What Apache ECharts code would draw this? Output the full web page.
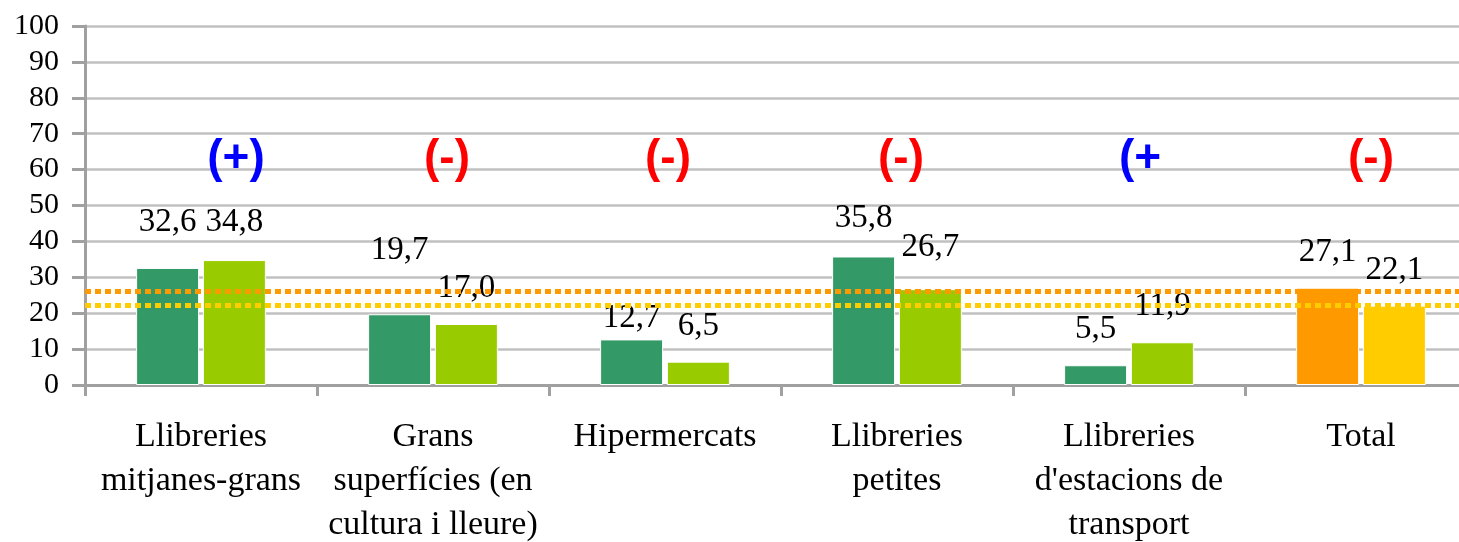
<!DOCTYPE html>
<html>
<head>
<meta charset="utf-8">
<script src="https://cdn.jsdelivr.net/npm/echarts@6/dist/echarts.min.js"></script>
<style>
  html, body { margin: 0; padding: 0; background: #fff; }
  #chart { width: 1459px; height: 542px; }
</style>
</head>
<body>
<div id="chart"></div>
<script>
var categories = ['Llibreries\nmitjanes-grans', 'Grans\nsuperfícies (en\ncultura i lleure)', 'Hipermercats',
    'Llibreries\npetites', "Llibreries\nd'estacions de\ntransport", 'Total'];
var serieA = [32.6, 19.7, 12.7, 35.8, 5.5, 27.1];
var serieB = [34.8, 17.0, 6.5, 26.7, 11.9, 22.1];
var refLines = [26.1, 22.3];
var signs = ['(+)', '(-)', '(-)', '(-)', '(+', '(-)'];
var signColors = ['#0000ff', '#ff0000', '#ff0000', '#ff0000', '#0000ff', '#ff0000'];

// label placement tweaks (the original labels were moved by hand)
var liftA = [10, 28, -14, 3, 0, 0];
var liftB = [2, 0, 0, 6, 0, 0];
var signShift = [35, 14, 3, 4, 11, 10];
var signLevel = 63;

var serif = '"Liberation Serif", "DejaVu Serif", serif';

function fmt(v) {
    return v.toFixed(1).replace('.', ',');
}

function barData(values, lift, lastColor) {
    return values.map(function(v, i) {
        var item = { value: v, label: { distance: 19 + lift[i] } };
        if (i === values.length - 1) item.itemStyle = { color: lastColor };
        return item;
    });
}

var chart = echarts.init(document.getElementById('chart'));

var barLabel = {
    show: true,
    position: 'top',
    color: '#000',
    fontFamily: serif,
    fontSize: 33,
    formatter: function(p) { return fmt(p.value); }
};

var option = {
    animation: false,
    grid: { left: 85, right: -18, top: 26, bottom: 157, outerBoundsMode: 'none', containLabel: false },
    xAxis: {
        type: 'category',
        data: categories,
        axisLine: { lineStyle: { color: '#a0a0a0', width: 3 } },
        axisTick: { show: true, length: 11, lineStyle: { color: '#a0a0a0', width: 3 } },
        axisLabel: {
            interval: 0,
            margin: 30,
            color: '#000',
            fontFamily: serif,
            fontSize: 34,
            lineHeight: 44
        },
        splitLine: { show: false }
    },
    yAxis: {
        type: 'value',
        min: 0,
        max: 100,
        interval: 10,
        axisLine: { show: true, lineStyle: { color: '#a0a0a0', width: 3 } },
        axisTick: { show: true, length: 13, lineStyle: { color: '#a0a0a0', width: 3 } },
        axisLabel: {
            margin: 26,
            color: '#000',
            fontFamily: serif,
            fontSize: 30
        },
        splitLine: { lineStyle: { color: '#c0c0c0', width: 2.5 } }
    },
    series: [{
        name: 'Sèrie 1',
        type: 'bar',
        barWidth: 63,
        barGap: '6%',
        itemStyle: { color: '#339966', borderColor: '#ffffff', borderWidth: 1 },
        label: barLabel,
        data: barData(serieA, liftA, '#ff9900'),
        z: 2
    }, {
        name: 'Sèrie 2',
        type: 'bar',
        barWidth: 63,
        barGap: '6%',
        itemStyle: { color: '#99cc00', borderColor: '#ffffff', borderWidth: 1 },
        label: barLabel,
        data: barData(serieB, liftB, '#ffcc00'),
        z: 2,
        markLine: {
            silent: true,
            symbol: 'none',
            label: { show: false },
            z: 5,
            data: [
                { yAxis: refLines[0], lineStyle: { color: '#ff9900', width: 5, type: [6, 4] } },
                { yAxis: refLines[1], lineStyle: { color: '#ffcc00', width: 5, type: [6, 4] } }
            ]
        }
    }, {
        name: 'signes',
        type: 'scatter',
        symbolSize: 0,
        silent: true,
        itemStyle: { opacity: 1 },
        z: 6,
        data: signs.map(function(s, i) {
            return {
                value: [i, signLevel],
                label: {
                    show: true,
                    position: 'inside',
                    offset: [signShift[i], 0],
                    formatter: s,
                    color: signColors[i],
                    opacity: 1,
                    fontFamily: '"Liberation Sans", Arial, sans-serif',
                    fontWeight: 'bold',
                    fontSize: 46
                }
            };
        })
    }]
};

chart.setOption(option);
</script>
</body>
</html>
